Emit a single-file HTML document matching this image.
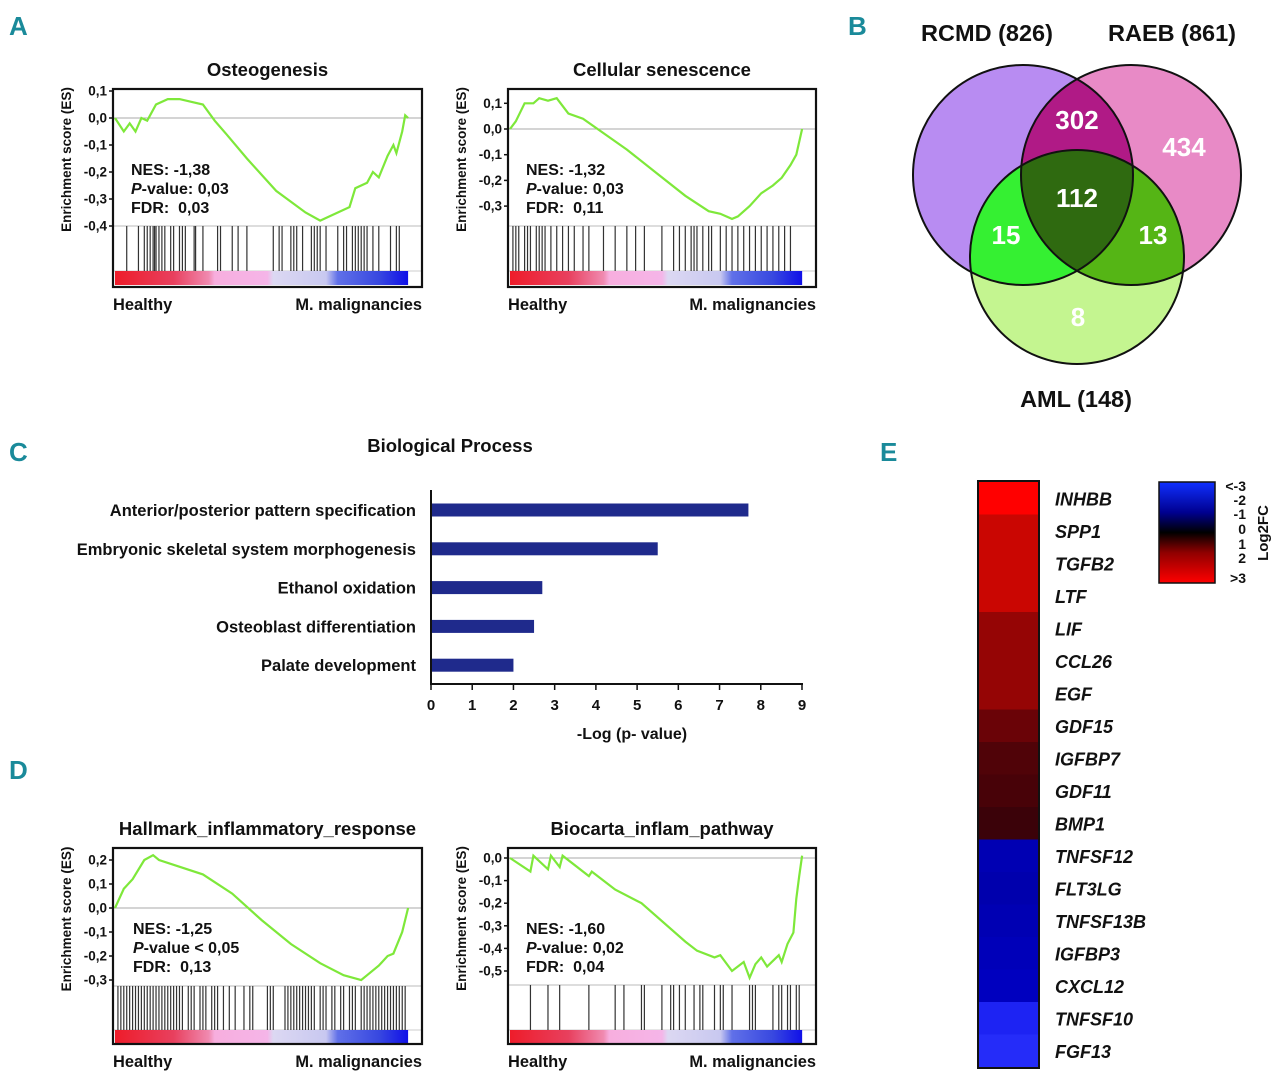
<!DOCTYPE html>
<html><head><meta charset="utf-8">
<style>
body{margin:0;background:#fff;}
svg{display:block;font-family:"Liberation Sans",Arial,sans-serif;}
.b{font-weight:bold;}
</style></head>
<body>
<svg id="fig" width="1280" height="1084" viewBox="0 0 1280 1084" xmlns="http://www.w3.org/2000/svg">
<defs>
<linearGradient id="rankbar" x1="0" x2="1" y1="0" y2="0">
<stop offset="0" stop-color="#ee1c2a"/><stop offset="0.2" stop-color="#e8405e"/><stop offset="0.32" stop-color="#f08ab0"/><stop offset="0.34" stop-color="#f7aede"/><stop offset="0.52" stop-color="#f5b5e8"/><stop offset="0.54" stop-color="#dcd8f2"/><stop offset="0.72" stop-color="#c8c8f0"/><stop offset="0.76" stop-color="#6070e8"/><stop offset="0.9" stop-color="#3848e0"/><stop offset="1" stop-color="#1010e8"/>
</linearGradient>
<linearGradient id="legendgrad" x1="0" x2="0" y1="0" y2="1">
<stop offset="0" stop-color="#1030ff"/><stop offset="0.3" stop-color="#000090"/><stop offset="0.5" stop-color="#000"/><stop offset="0.7" stop-color="#900000"/><stop offset="1" stop-color="#ff0000"/>
</linearGradient>
<clipPath id="cP"><circle cx="1023" cy="175" r="110"/></clipPath>
<clipPath id="cK"><circle cx="1131" cy="175" r="110"/></clipPath>
<clipPath id="cG"><circle cx="1077" cy="257" r="107"/></clipPath>
</defs>
<g fill="#1a8a9a" font-family="'Liberation Sans Narrow','Liberation Sans',sans-serif" font-weight="bold" font-size="26">
<text x="9" y="35">A</text>
<text x="848" y="35">B</text>
<text x="9" y="461">C</text>
<text x="880" y="461">E</text>
<text x="9" y="779">D</text>
</g>

<!-- Venn -->
<g>
<circle cx="1023" cy="175" r="110" fill="#b88cf2"/>
<circle cx="1131" cy="175" r="110" fill="#e88ac6"/>
<circle cx="1077" cy="257" r="107" fill="#c4f590"/>
<g clip-path="url(#cP)"><circle cx="1131" cy="175" r="110" fill="#b01a86"/><circle cx="1077" cy="257" r="107" fill="#35f032"/></g>
<g clip-path="url(#cK)"><circle cx="1077" cy="257" r="107" fill="#55b515"/></g>
<g clip-path="url(#cP)"><g clip-path="url(#cK)"><circle cx="1077" cy="257" r="107" fill="#2f6a10"/></g></g>
<g fill="none" stroke="#111" stroke-width="2">
<circle cx="1023" cy="175" r="110"/><circle cx="1131" cy="175" r="110"/><circle cx="1077" cy="257" r="107"/></g>
<g class="b" font-size="23.5" text-anchor="middle" fill="#111">
<text x="987" y="41">RCMD (826)</text>
<text x="1172" y="41">RAEB (861)</text>
<text x="1076" y="407">AML (148)</text>
</g>
<g class="b" font-size="26" text-anchor="middle" fill="#fff">
<text x="1077" y="129">302</text>
<text x="1184" y="156">434</text>
<text x="1077" y="207">112</text>
<text x="1006" y="244">15</text>
<text x="1153" y="244">13</text>
<text x="1078" y="326">8</text>
</g>
</g>

<g id="gsea"></g>
<g id="bars"></g>
<g id="heat"></g>

<!-- heatmap legend -->
<g>
<rect x="1159" y="482" width="56" height="101" fill="url(#legendgrad)" stroke="#111" stroke-width="1.5"/>
<g class="b" font-size="14" text-anchor="end" fill="#111">
<text x="1246" y="491">&lt;-3</text><text x="1246" y="505">-2</text><text x="1246" y="519">-1</text><text x="1246" y="534">0</text><text x="1246" y="549">1</text><text x="1246" y="563">2</text><text x="1246" y="583">&gt;3</text>
</g>
<text class="b" font-size="15" transform="translate(1268,533) rotate(-90)" text-anchor="middle" fill="#111">Log2FC</text>
</g>
</svg>
<script>
const NS="http://www.w3.org/2000/svg";
function mk(tag,attrs,parent,txt){const e=document.createElementNS(NS,tag);for(const k in attrs)e.setAttribute(k,attrs[k]);if(txt!==undefined)e.textContent=txt;parent.appendChild(e);return e;}

// ---------- GSEA data ----------
const osteoCurveX=[0,0.03,0.05,0.07,0.09,0.11,0.14,0.18,0.22,0.26,0.3,0.34,0.38,0.45,0.55,0.65,0.7,0.76,0.8,0.82,0.86,0.88,0.9,0.93,0.95,0.96,0.98,0.99,1];
const osteoCurveY=[0,-0.05,-0.02,-0.05,0,-0.01,0.05,0.07,0.07,0.06,0.05,-0.01,-0.06,-0.15,-0.27,-0.35,-0.38,-0.35,-0.33,-0.26,-0.24,-0.2,-0.22,-0.14,-0.1,-0.13,-0.05,0.01,0];
const osteoHits=[0.04,0.08,0.1,0.11,0.12,0.13,0.135,0.14,0.15,0.16,0.17,0.19,0.2,0.22,0.23,0.24,0.27,0.275,0.3,0.35,0.36,0.4,0.42,0.45,0.54,0.56,0.57,0.6,0.61,0.62,0.64,0.67,0.68,0.69,0.7,0.72,0.76,0.78,0.79,0.81,0.82,0.83,0.84,0.85,0.86,0.88,0.9,0.94,0.96,0.97];
const senCurveX=[0,0.02,0.05,0.08,0.1,0.13,0.16,0.2,0.25,0.3,0.4,0.5,0.6,0.68,0.72,0.76,0.78,0.82,0.86,0.9,0.93,0.96,0.98,1];
const senCurveY=[0,0.03,0.1,0.1,0.12,0.11,0.12,0.06,0.04,0.0,-0.08,-0.17,-0.26,-0.32,-0.33,-0.35,-0.34,-0.3,-0.25,-0.22,-0.19,-0.14,-0.1,0];
const senHits=[0.01,0.02,0.03,0.05,0.06,0.07,0.09,0.1,0.11,0.12,0.14,0.16,0.18,0.2,0.22,0.25,0.27,0.32,0.36,0.4,0.43,0.46,0.52,0.56,0.58,0.6,0.62,0.63,0.64,0.66,0.68,0.69,0.72,0.74,0.76,0.78,0.8,0.82,0.84,0.86,0.88,0.9,0.92,0.94,0.96];
const inflCurveX=[0,0.03,0.06,0.1,0.13,0.15,0.2,0.3,0.4,0.5,0.6,0.7,0.78,0.84,0.86,0.9,0.93,0.95,0.98,1];
const inflCurveY=[0,0.08,0.12,0.2,0.22,0.2,0.18,0.14,0.06,-0.05,-0.15,-0.23,-0.28,-0.3,-0.28,-0.24,-0.2,-0.19,-0.1,0];
const inflHits=[0.01,0.02,0.03,0.04,0.05,0.06,0.07,0.08,0.09,0.1,0.11,0.12,0.13,0.14,0.15,0.16,0.17,0.18,0.19,0.2,0.21,0.22,0.23,0.25,0.26,0.27,0.29,0.3,0.31,0.33,0.34,0.35,0.37,0.39,0.41,0.44,0.46,0.47,0.52,0.53,0.54,0.58,0.59,0.6,0.61,0.62,0.63,0.64,0.65,0.66,0.67,0.68,0.7,0.71,0.72,0.74,0.75,0.77,0.78,0.8,0.81,0.82,0.84,0.85,0.86,0.87,0.88,0.89,0.9,0.91,0.92,0.93,0.94,0.95,0.96,0.97,0.98,0.99];
const bioCurveX=[0,0.07,0.08,0.13,0.14,0.17,0.18,0.27,0.28,0.36,0.45,0.6,0.64,0.7,0.72,0.76,0.8,0.82,0.84,0.86,0.88,0.92,0.93,0.95,0.97,0.98,0.99,1];
const bioCurveY=[0,-0.06,0.01,-0.05,0.01,-0.04,0.01,-0.08,-0.06,-0.14,-0.2,-0.37,-0.41,-0.44,-0.43,-0.5,-0.46,-0.53,-0.47,-0.44,-0.48,-0.43,-0.46,-0.38,-0.33,-0.18,-0.08,0.01];
const bioHits=[0.07,0.13,0.17,0.27,0.36,0.39,0.45,0.46,0.52,0.55,0.56,0.58,0.6,0.63,0.65,0.66,0.7,0.72,0.73,0.76,0.82,0.83,0.84,0.9,0.92,0.93,0.95,0.96,0.98,0.99];

const panels=[
 {name:"osteogenesis",title:"Osteogenesis",x0:113,x1:422,y0:89,y1:287,zero:118,ppu:270,ticks:[0.1,0,-0.1,-0.2,-0.3,-0.4],hitsTop:226,barTop:271,barBot:285,cx:osteoCurveX,cy:osteoCurveY,hits:osteoHits,stats:["NES: -1,38","P-value: 0,03","FDR:\u00a0\u00a00,03"],sx:131,sy:175},
 {name:"senescence",title:"Cellular senescence",x0:508,x1:816,y0:89,y1:287,zero:129,ppu:257,ticks:[0.1,0,-0.1,-0.2,-0.3],hitsTop:226,barTop:271,barBot:285,cx:senCurveX,cy:senCurveY,hits:senHits,stats:["NES: -1,32","P-value: 0,03","FDR:\u00a0\u00a00,11"],sx:526,sy:175},
 {name:"hallmark-inflammatory",title:"Hallmark_inflammatory_response",x0:113,x1:422,y0:848,y1:1044,zero:908,ppu:240,ticks:[0.2,0.1,0,-0.1,-0.2,-0.3],hitsTop:986,barTop:1030,barBot:1043,cx:inflCurveX,cy:inflCurveY,hits:inflHits,stats:["NES: -1,25","P-value < 0,05","FDR:\u00a0\u00a00,13"],sx:133,sy:934},
 {name:"biocarta-inflam",title:"Biocarta_inflam_pathway",x0:508,x1:816,y0:848,y1:1044,zero:858,ppu:226,ticks:[0,-0.1,-0.2,-0.3,-0.4,-0.5],hitsTop:985,barTop:1030,barBot:1043,cx:bioCurveX,cy:bioCurveY,hits:bioHits,stats:["NES: -1,60","P-value: 0,02","FDR:\u00a0\u00a00,04"],sx:526,sy:934}
];
const G=document.getElementById('gsea');
panels.forEach(p=>{
 const g=mk('g',{},G);
 
 
 const L=p.x0+2,R=p.x0+(p.x1-p.x0)*0.955;
 const xs=f=>L+(R-L)*f, ys=v=>p.zero-v*p.ppu;
 const t=mk('text',{x:(p.x0+p.x1)/2,y:p.y0-13,'text-anchor':'middle','font-size':18.5,'font-weight':'bold',fill:'#111'},g,p.title);
 
 
 mk('line',{x1:p.x0,x2:p.x1,y1:p.zero,y2:p.zero,stroke:'#aaa','stroke-width':1},g);
 mk('line',{x1:p.x0,x2:p.x1,y1:p.hitsTop,y2:p.hitsTop,stroke:'#bbb','stroke-width':1},g);
 mk('line',{x1:p.x0,x2:p.x1,y1:p.barTop,y2:p.barTop,stroke:'#ccc','stroke-width':1},g);
 p.hits.forEach(h=>{const l=mk('line',{x1:xs(h),x2:xs(h),y1:p.hitsTop,y2:p.barTop,stroke:'#333','stroke-width':1.2},g);
  
  });
 mk('rect',{x:L,y:p.barTop,width:R-L,height:p.barBot-p.barTop,fill:'url(#rankbar)'},g);
 let d='';p.cx.forEach((x,i)=>{d+=(i?'L':'M')+xs(x).toFixed(1)+','+ys(p.cy[i]).toFixed(1);});
 const c=mk('path',{d:d,fill:'none',stroke:'#7ee83a','stroke-width':2.2},g);
 
 
 mk('rect',{x:p.x0,y:p.y0,width:p.x1-p.x0,height:p.y1-p.y0,fill:'none',stroke:'#111','stroke-width':2.2},g);
 p.ticks.forEach(v=>{const y=ys(v);mk('line',{x1:p.x0-4,x2:p.x0,y1:y,y2:y,stroke:'#111','stroke-width':1.5},g);
  const tl=mk('text',{x:p.x0-6,y:y+4.5,'text-anchor':'end','font-size':13.5,'font-weight':'bold',fill:'#111'},g,v.toFixed(1).replace('.',',').replace('-0,0','0,0'));
  
  });
 const yt=mk('text',{transform:`translate(${p.x0-42},${(p.y0+p.hitsTop)/2+2}) rotate(-90)`,'text-anchor':'middle','font-size':13.5,'font-weight':'bold',fill:'#111'},g,'Enrichment score (ES)');
 
 
 p.stats.forEach((s,i)=>{const st=mk('text',{x:p.sx,y:p.sy+i*19,'font-size':16,'font-weight':'bold',fill:'#111'},g);
  
  
  if(s.startsWith('P-')){mk('tspan',{'font-style':'italic'},st,'P');mk('tspan',{},st,s.slice(1));}else st.textContent=s;});
 mk('text',{x:p.x0,y:p.y1+23,'font-size':16.4,'font-weight':'bold',fill:'#111'},g,'Healthy');
 mk('text',{x:p.x1,y:p.y1+23,'text-anchor':'end','font-size':16.4,'font-weight':'bold',fill:'#111'},g,'M. malignancies');
});

// ---------- Bar chart ----------
const bpCategories=["Anterior/posterior pattern specification","Embryonic skeletal system morphogenesis","Ethanol oxidation","Osteoblast differentiation","Palate development"];
const bpValues=[7.7,5.5,2.7,2.5,2.0];
const bpTicks=[0,1,2,3,4,5,6,7,8,9];
const B=document.getElementById('bars');


const bx=v=>431+v*(802-431)/9;
const by=i=>510+i*38.8;
mk('text',{x:450,y:452,'text-anchor':'middle','font-size':18.5,'font-weight':'bold',fill:'#111'},B,'Biological Process');
bpValues.forEach((v,i)=>{
 const r=mk('rect',{x:bx(0),y:by(i)-6.5,width:bx(v)-bx(0),height:13,fill:'#1f2a8c'},B);
 
 
 const l=mk('text',{x:416,y:by(i)+6,'text-anchor':'end','font-size':16.5,'font-weight':'bold',fill:'#111'},B,bpCategories[i]);
 
 
});
mk('line',{x1:431,x2:431,y1:490,y2:684,stroke:'#111','stroke-width':2},B);
mk('line',{x1:430,x2:bx(9)+1,y1:684,y2:684,stroke:'#111','stroke-width':2},B);
bpTicks.forEach(t=>{mk('line',{x1:bx(t),x2:bx(t),y1:684,y2:690,stroke:'#111','stroke-width':1.5},B);
 const tl=mk('text',{x:bx(t),y:710,'text-anchor':'middle','font-size':15,'font-weight':'bold',fill:'#111'},B,String(t));
 
 });
const xt=mk('text',{x:632,y:739,'text-anchor':'middle','font-size':16,'font-weight':'bold',fill:'#111'},B,'-Log (p- value)');



// ---------- Heatmap ----------
const heatGenes=["INHBB","SPP1","TGFB2","LTF","LIF","CCL26","EGF","GDF15","IGFBP7","GDF11","BMP1","TNFSF12","FLT3LG","TNFSF13B","IGFBP3","CXCL12","TNFSF10","FGF13"];
const heatValues=[3.0,2.4,2.4,2.4,1.8,1.8,1.8,1.3,1.0,0.9,0.75,-1.7,-1.6,-1.7,-1.8,-1.9,-2.8,-2.9];
const H=document.getElementById('heat');


function col(v){const a=Math.min(1,Math.abs(v)/3);
 if(v>=0){return `rgb(${Math.round(255*Math.pow(a,1.05))},${Math.round(v>=2.9?0:8*a)},${Math.round(12*(1-a))})`;}
 const b=Math.round(80+175*a);const lift=a>0.85?Math.round((a-0.8)*220):0;return `rgb(${lift},${Math.round(lift*1.2)},${Math.min(255,b)})`;}
const hy0=482,rh=(1067-482)/heatGenes.length;
heatGenes.forEach((g,i)=>{
 const r=mk('rect',{x:979,y:hy0+i*rh,width:59,height:rh+0.5,fill:col(heatValues[i])},H);
 
 
 const t=mk('text',{x:1055,y:hy0+i*rh+rh/2+7,'font-size':18,'font-weight':'bold','font-style':'italic',fill:'#111'},H,g);
 
 
});
mk('rect',{x:978,y:481,width:61,height:587,fill:'none',stroke:'#111','stroke-width':2},H);
</script>
</body></html>
